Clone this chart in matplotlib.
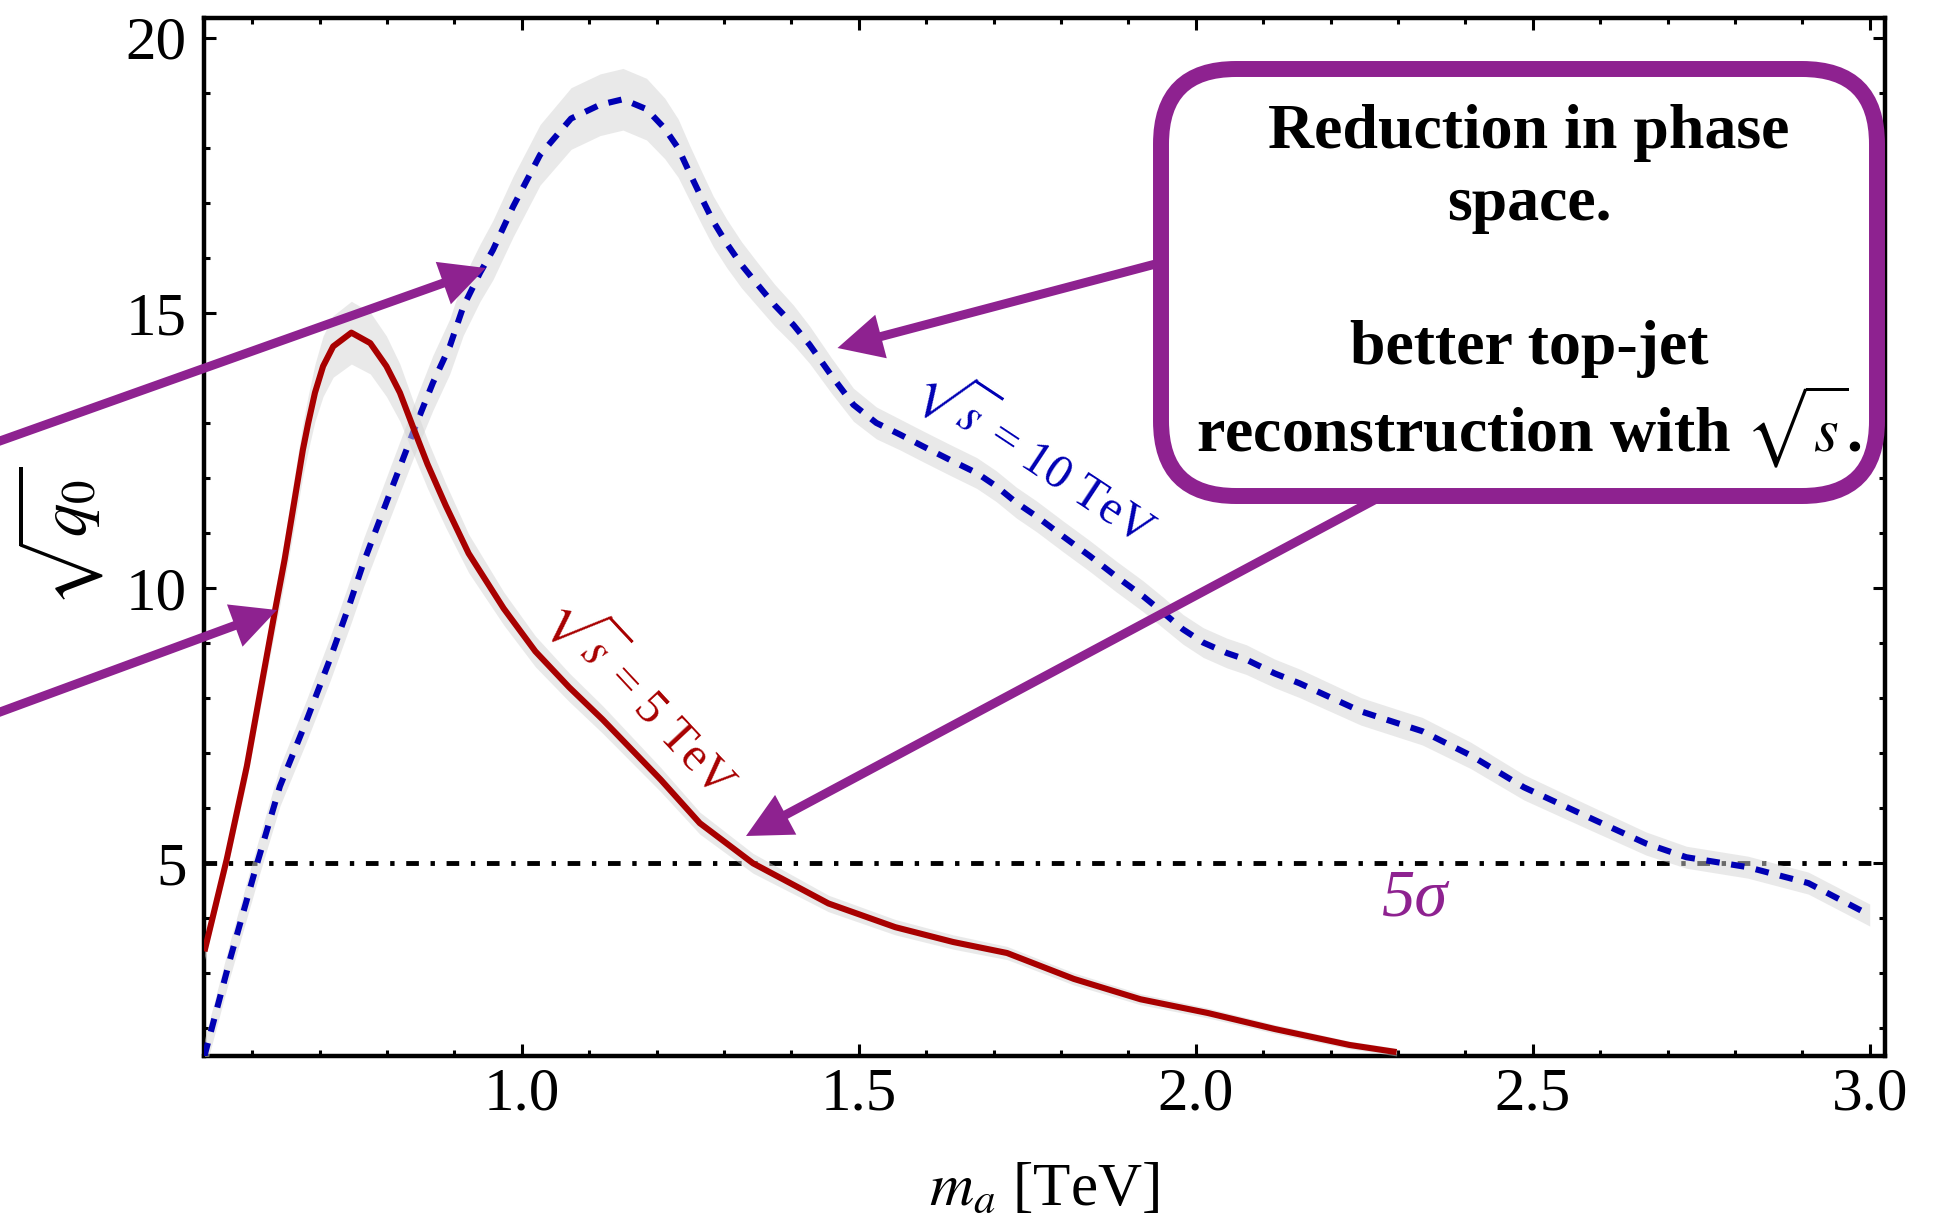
import numpy as np
import matplotlib
matplotlib.use('Agg')
import matplotlib.pyplot as plt
from matplotlib.patches import FancyBboxPatch, FancyArrow
from matplotlib.ticker import MultipleLocator

plt.rcParams['font.family'] = ['Liberation Serif', 'DejaVu Serif']
plt.rcParams['mathtext.fontset'] = 'stix'

PURPLE = '#8E2290'
RED = '#A80000'
BLUE = '#0000B4'

# sqrt(q0) against m_a for sqrt(s) = 5 TeV (value and half-width of the band)
m5 = [0.529, 0.562, 0.592, 0.616, 0.634, 0.648, 0.662, 0.675, 0.683, 0.693,
      0.705, 0.720, 0.747, 0.775, 0.799, 0.819, 0.838, 0.860, 0.887, 0.921,
      0.973, 1.020, 1.070, 1.120, 1.206, 1.264, 1.343, 1.455, 1.554, 1.640,
      1.720, 1.819, 1.918, 2.018, 2.117, 2.228, 2.298]
q5 = [3.40, 5.07, 6.77, 8.40, 9.61, 10.52, 11.55, 12.51, 13.00, 13.55,
      14.03, 14.39, 14.64, 14.45, 14.03, 13.55, 12.94, 12.25, 11.50, 10.63,
      9.63, 8.85, 8.20, 7.61, 6.52, 5.73, 5.00, 4.27, 3.84, 3.57,
      3.37, 2.90, 2.53, 2.28, 1.99, 1.70, 1.57]
err5 = [0.15, 0.20, 0.25, 0.30, 0.35, 0.40, 0.45, 0.48, 0.50, 0.52,
        0.55, 0.56, 0.57, 0.56, 0.55, 0.52, 0.48, 0.44, 0.40, 0.35,
        0.30, 0.28, 0.26, 0.25, 0.22, 0.20, 0.18, 0.15, 0.14, 0.13,
        0.12, 0.11, 0.10, 0.09, 0.08, 0.07, 0.07]

# same for sqrt(s) = 10 TeV
m10 = [0.529, 0.567, 0.606, 0.641, 0.681, 0.715, 0.745, 0.765, 0.805, 0.844,
       0.868, 0.893, 0.913, 0.938, 0.957, 0.987, 1.027, 1.073, 1.116, 1.150,
       1.185, 1.212, 1.232, 1.249, 1.267, 1.284, 1.304, 1.326, 1.348, 1.375,
       1.403, 1.427, 1.460, 1.492, 1.526, 1.561, 1.596, 1.635, 1.675, 1.704,
       1.734, 1.764, 1.803, 1.843, 1.882, 1.922, 1.952, 1.981, 2.011, 2.046,
       2.075, 2.117, 2.154, 2.245, 2.336, 2.408, 2.487, 2.577, 2.668, 2.728,
       2.819, 2.909, 3.000]
q10 = [1.50, 3.26, 4.95, 6.40, 7.61, 8.70, 9.73, 10.46, 11.75, 13.00,
       13.73, 14.39, 15.11, 15.73, 16.14, 16.93, 17.87, 18.53, 18.78, 18.88,
       18.70, 18.35, 17.99, 17.54, 17.08, 16.66, 16.26, 15.87, 15.54, 15.14,
       14.78, 14.42, 13.85, 13.33, 13.00, 12.79, 12.57, 12.33, 12.09, 11.85,
       11.55, 11.30, 10.94, 10.58, 10.21, 9.85, 9.55, 9.25, 9.01, 8.82,
       8.70, 8.45, 8.27, 7.76, 7.40, 6.96, 6.38, 5.87, 5.36, 5.11,
       4.93, 4.64, 4.06]
err10 = [0.30, 0.32, 0.34, 0.36, 0.38, 0.40, 0.42, 0.44, 0.46, 0.48,
         0.50, 0.50, 0.52, 0.52, 0.54, 0.55, 0.55, 0.56, 0.56, 0.56,
         0.56, 0.55, 0.53, 0.50, 0.48, 0.46, 0.44, 0.42, 0.40, 0.38,
         0.36, 0.34, 0.32, 0.30, 0.29, 0.28, 0.28, 0.28, 0.28, 0.28,
         0.28, 0.28, 0.28, 0.28, 0.28, 0.28, 0.28, 0.27, 0.27, 0.27,
         0.27, 0.26, 0.26, 0.25, 0.25, 0.24, 0.23, 0.22, 0.21, 0.20,
         0.20, 0.20, 0.20]

discovery = 5
xticks = [1.0, 1.5, 2.0, 2.5, 3.0]
yticks = [5, 10, 15, 20]
box_lines = ["Reduction in phase", "space.", "better top-jet",
             r"reconstruction with $\sqrt{s}$."]

m5, q5, err5 = np.array(m5), np.array(q5), np.array(err5)
m10, q10, err10 = np.array(m10), np.array(q10), np.array(err10)

fig = plt.figure(figsize=(19.38, 12.27), dpi=100)
ax = fig.add_axes([0.1055, 0.1394, 0.8669, 0.8461])

ax.axhline(discovery, color='k', lw=3.5, dashes=(2.6, 2.4, 0.9, 2.4), zorder=2)

ax.fill_between(m10, q10 - err10, q10 + err10, color='#D4D4D4', alpha=0.5, lw=0, zorder=3)
ax.plot(m10, q10, color=BLUE, lw=4.4, dashes=(2.2, 1.9), zorder=4)
ax.fill_between(m5, q5 - err5, q5 + err5, color='#D4D4D4', alpha=0.5, lw=0, zorder=5)
ax.plot(m5, q5, color=RED, lw=4.4, zorder=6, solid_capstyle='butt')

ax.text(1.764, 12.42, r'$\sqrt{s}$ = 10 TeV', color=BLUE, fontsize=35,
        rotation=-33.5, rotation_mode='anchor', ha='center', va='center')
ax.text(1.181, 8.05, r'$\sqrt{s}$ = 5 TeV', color=RED, fontsize=35,
        rotation=-47, rotation_mode='anchor', ha='center', va='center')
ax.text(2.325, 4.35, '5σ', color=PURPLE, fontsize=48, style='italic',
        ha='center', va='center')

ax.set_xlim(0.529, 3.022)
ax.set_ylim(1.5, 20.36)
ax.set_xticks(xticks)
ax.set_xticklabels([f'{t:.1f}' for t in xticks])
ax.set_yticks(yticks)
ax.set_yticklabels([str(t) for t in yticks])
ax.xaxis.set_minor_locator(MultipleLocator(0.1))
ax.yaxis.set_minor_locator(MultipleLocator(1))
ax.tick_params(which='both', direction='in', top=True, right=True, width=2.2)
ax.tick_params(which='major', length=8.6, labelsize=44)
ax.tick_params(which='minor', length=4.3)
ax.tick_params(axis='x', which='major', pad=8)
ax.tick_params(axis='y', which='major', pad=13)
for s in ax.spines.values():
    s.set_linewidth(3.2)

ax.set_xlabel(r'$m_a$ [TeV]', fontsize=44)
ax.xaxis.set_label_coords(0.5, -0.103)
ax.set_ylabel(r'$\sqrt{q_0}$', fontsize=48)
ax.yaxis.set_label_coords(-0.059, 0.5)

# annotation arrows, figure pixels measured from the top-left corner
H = 1227
arrows = [((-10, 444.5), (485.7, 268.0)),
          ((-10, 715.7), (277.0, 610.0)),
          ((1165, 261.5), (837.5, 348.0)),
          ((1380, 497.0), (746.0, 836.0))]
for (x0, y0), (x1, y1) in arrows:
    a = FancyArrow(x0 / 100, (H - y0) / 100, (x1 - x0) / 100, (y0 - y1) / 100,
                   width=0.09, head_width=0.45, head_length=0.45,
                   length_includes_head=True, color=PURPLE, lw=0,
                   transform=fig.dpi_scale_trans, zorder=5)
    fig.add_artist(a)

box = FancyBboxPatch((11.61, 7.31), 7.16, 4.27,
                     boxstyle='round,pad=0,rounding_size=0.75',
                     transform=fig.dpi_scale_trans, facecolor='white',
                     edgecolor=PURPLE, lw=11.5, zorder=6)
fig.add_artist(box)

for txt, yb in zip(box_lines, [148, 219.5, 364, 451]):
    fig.text(15.29, (H - yb) / 100, txt, transform=fig.dpi_scale_trans,
             fontsize=46, fontweight='bold', ha='center', va='baseline', zorder=7)

fig.savefig('out.png', dpi=100)
